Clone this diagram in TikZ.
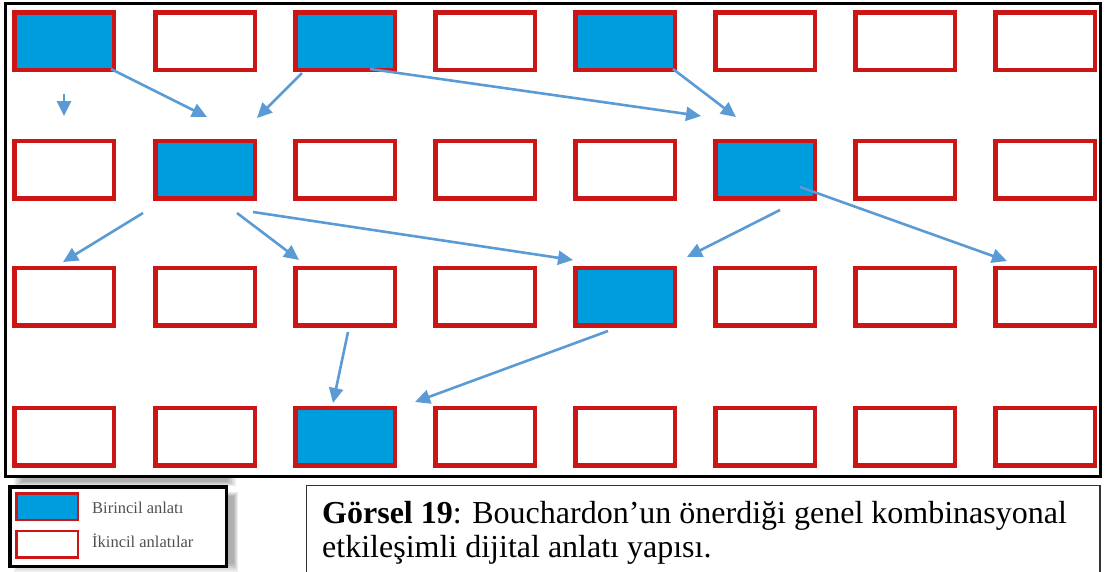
\documentclass[tikz,border=0pt]{standalone}
\usepackage{fontspec}
\setmainfont{Liberation Serif}
\usetikzlibrary{arrows.meta}
\definecolor{boxred}{RGB}{204,22,22}
\definecolor{boxblue}{RGB}{0,157,222}
\definecolor{arrblue}{RGB}{91,155,213}
\definecolor{legtext}{RGB}{80,80,80}
\tikzset{
  sbox/.style={draw=boxred, line width=4.5pt, fill=white, minimum width=99.5pt, minimum height=57.5pt, inner sep=0pt, outer sep=0pt},
  pbox/.style={sbox, fill=boxblue},
  lbox/.style={draw=boxred, line width=2.5pt, minimum width=61.5pt, minimum height=26.5pt, inner sep=0pt},
  conn/.style={draw=arrblue, line width=2.6pt, -{Triangle[length=15pt,width=14pt]}, shorten >=0pt},
  legfont/.style={font=\fontsize{16.5}{18}\selectfont, text=legtext, inner sep=0pt, anchor=base west},
  capfont/.style={font=\fontsize{32}{34}\selectfont, text=black, inner sep=0pt, anchor=base west}
}
\begin{document}
\begin{tikzpicture}[x=1pt,y=-1pt]
\useasboundingbox (0,0) rectangle (1106,571);
\fill[white] (0,0) rectangle (1106,571);
% soft shadows
\foreach \d in {0,2,4,6,8}{
  \fill[black, opacity=0.07] (14+\d,478) rectangle (236-\d,486-\d/2);
  \fill[black, opacity=0.07] (14+\d,492+\d/2) rectangle (238-\d/2,572-\d);
}
% main frame
\draw[black, line width=3pt] (5.5,3.5) rectangle (1100,476);
% boxes
\foreach \r/\y in {1/41,2/169.5,3/296.5,4/436.5}{
  \foreach \c/\x in {1/64,2/205,3/345,4/485,5/625,6/765,7/905,8/1045}{
    \node[sbox] (r\r c\c) at (\x,\y) {};
  }
}
\foreach \n/\x/\y in {r1c1/64/41, r1c3/345/41, r1c5/625/41, r2c2/205/169.5, r2c6/765/169.5, r3c5/625/296.5, r4c3/345/436.5}{
  \node[pbox] at (\x,\y) {};
}
% arrow end points
\coordinate (s1) at (64,94);   \coordinate (t1) at (64,116);
\coordinate (s2) at (111,69);  \coordinate (t2) at (207,117);
\coordinate (s3) at (302,73);  \coordinate (t3) at (257,118);
\coordinate (s4) at (370,69);  \coordinate (t4) at (701,116);
\coordinate (s5) at (673,69);  \coordinate (t5) at (736,117);
\coordinate (s6) at (143,213); \coordinate (t6) at (63,262);
\coordinate (s7) at (237,213); \coordinate (t7) at (299,260);
\coordinate (s8) at (253,212); \coordinate (t8) at (573,260);
\coordinate (s9) at (780,210); \coordinate (t9) at (687,257);
\coordinate (s10) at (800,187); \coordinate (t10) at (1007,261);
\coordinate (s11) at (348,332); \coordinate (t11) at (333,403);
\coordinate (s12) at (608,331); \coordinate (t12) at (415,402);
\foreach \i in {1,...,12}{ \draw[conn] (s\i) -- (t\i); }
% legend
\node[draw=black, line width=3.5pt, fill=white, minimum width=216.5pt, minimum height=79.5pt, inner sep=0pt] (legend) at (118,526.5) {};
\node[lbox, fill=boxblue] (lb1) at (47,506.5) {};
\node[lbox, fill=white] (lb2) at (47,544) {};
\node[legfont] (lt1) at (92,513) {Birincil anlatı};
\node[legfont] (lt2) at (92,547) {İkincil anlatılar};
% caption
\draw[black!80, line width=1.5pt] (306.5,485.5) rectangle (1100,575);
\node[capfont] (cap1) at (322,523) {\textbf{Görsel 19}: Bouchardon’un önerdiği genel kombinasyonal};
\node[capfont] (cap2) at (322,557) {etkileşimli dijital anlatı yapısı.};
\end{tikzpicture}
\end{document}
